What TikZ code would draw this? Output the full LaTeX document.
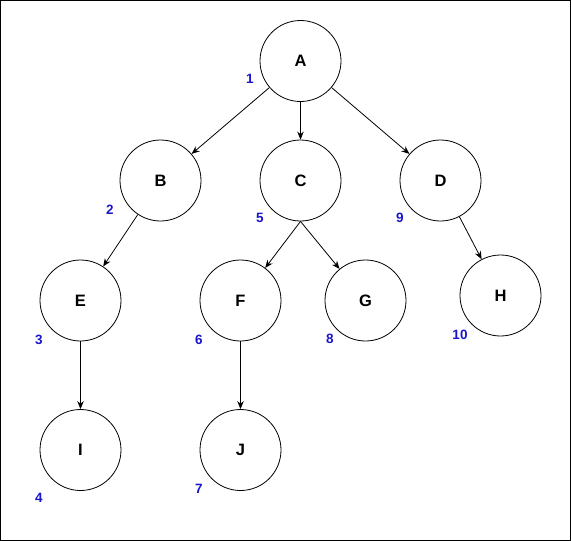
\documentclass[tikz,border=0pt]{standalone}
\usepackage{fontspec}
\setmainfont{Liberation Sans}
\usepackage{xcolor}
\usepackage{tikz}
\usetikzlibrary{arrows.meta}
\definecolor{ordBlue}{HTML}{1A14CC}
\tikzset{
  vertex/.style={circle, draw=black, line width=0.8pt, minimum size=81pt, inner sep=0pt, font=\fontsize{16.5}{18}\selectfont\bfseries},
  order/.style={text=ordBlue, inner sep=0pt, font=\fontsize{13.5}{15}\selectfont\bfseries},
  edge/.style={-{Stealth[length=8pt,width=6.5pt]}, line width=0.8pt, draw=black}
}
\begin{document}
\begin{tikzpicture}[x=1pt, y=-1pt]
\useasboundingbox (0,0) rectangle (571,541);
\draw[line width=1pt] (0.5,0.5) rectangle (570.5,540.5);
% tree nodes
\node[vertex] (A) at (300.5,61) {A};
\node[vertex] (B) at (160.5,180.5) {B};
\node[vertex] (C) at (300.5,180.5) {C};
\node[vertex] (D) at (440.5,180.5) {D};
\node[vertex] (E) at (80.5,300.5) {E};
\node[vertex] (F) at (240.5,300.5) {F};
\node[vertex] (G) at (365.5,300.5) {G};
\node[vertex] (H) at (500.5,295.5) {H};
\node[vertex] (I) at (80.5,450) {I};
\node[vertex] (J) at (240.5,450) {J};
% visit order
\node[order] (o1) at (250,79) {1};
\node[order] (o2) at (110,210) {2};
\node[order] (o3) at (39,340) {3};
\node[order] (o4) at (39,498) {4};
\node[order] (o5) at (260,218) {5};
\node[order] (o6) at (199,340) {6};
\node[order] (o7) at (199,489) {7};
\node[order] (o8) at (330,339) {8};
\node[order] (o9) at (400,218) {9};
\node[order] (o10) at (460,335) {10};
% edges
\draw[edge] (A) -- (B);
\draw[edge] (A) -- (C);
\draw[edge] (A) -- (D);
\draw[edge] (B) -- (E);
\draw[edge] (C.south) -- (F);
\draw[edge] (C.south) -- (G);
\draw[edge] (D) -- (H);
\draw[edge] (E) -- (I);
\draw[edge] (F) -- (J);
\end{tikzpicture}
\end{document}
